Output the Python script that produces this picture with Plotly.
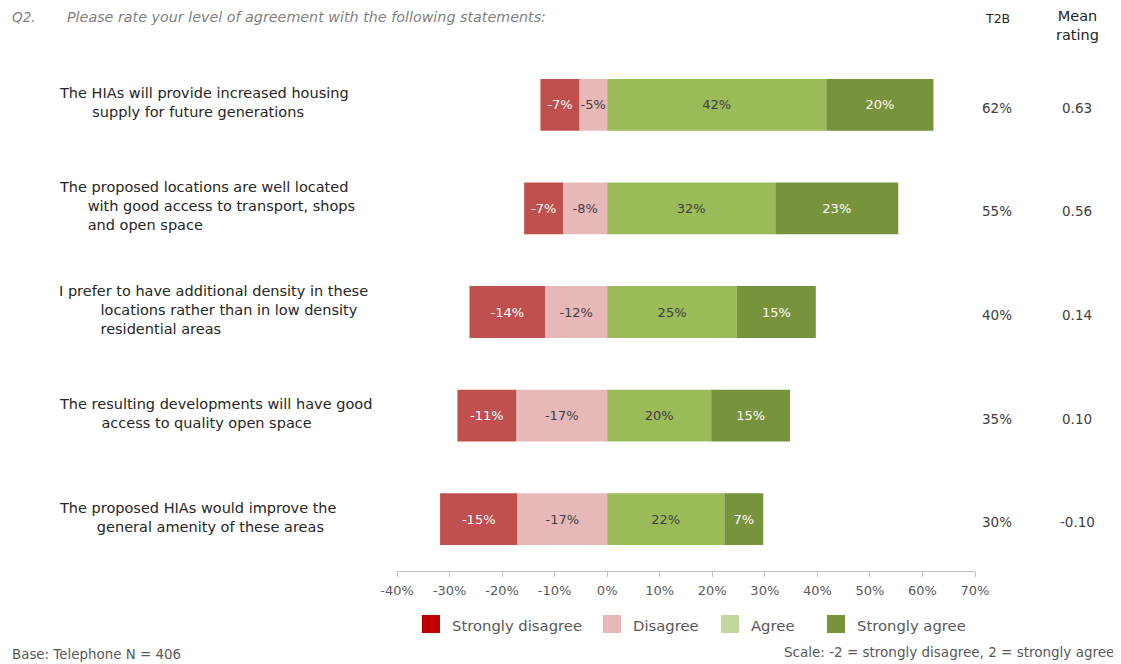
import plotly.graph_objects as go

# statements (lines as shown on the chart)
statements = [
    ["The HIAs will provide increased housing", "supply for future generations"],
    ["The proposed locations are well located", "with good access to transport, shops", "and open space"],
    ["I prefer to have additional density in these", "locations rather than in low density", "residential areas"],
    ["The resulting developments will have good", "access to quality open space"],
    ["The proposed HIAs would improve the", "general amenity of these areas"],
]

series_names = ["Strongly disagree", "Disagree", "Agree", "Strongly agree"]
strongly_disagree = [-7.4, -7.4, -14.4, -11.2, -14.7]
disagree = [-5.3, -8.4, -11.8, -17.3, -17.1]
agree = [41.7, 32.0, 24.7, 19.8, 22.3]
strongly_agree = [20.4, 23.4, 15.0, 15.0, 7.4]

t2b = ["62%", "55%", "40%", "35%", "30%"]
mean_rating = ["0.63", "0.56", "0.14", "0.10", "-0.10"]

tick_vals = [-40, -30, -20, -10, 0, 10, 20, 30, 40, 50, 60, 70]
tick_text = [f"{v}%" for v in tick_vals]

# styling
FONT = "DejaVu Sans"
PAGE = 8  # body margin of the html page
W, H = 1121 - PAGE, 664 - PAGE
ML, MR, MT, MB = 389, 146, 45, 93
bar_colors = ["#C0504D", "#E6B9B8", "#9BBB59", "#77933C"]
legend_colors = ["#C00000", "#E6B9B8", "#C3D69B", "#77933C"]
text_colors = ["#FFFFFF", "#404040", "#404040", "#FFFFFF"]
indents = [7, 6, 9, 9, 8]  # non-breaking spaces before wrapped lines

pw, ph = W - ML - MR, H - MT - MB


def px_x(px):
    # screen pixel -> paper x
    return (px - PAGE - ML) / pw


def px_y(py):
    # screen pixel -> paper y
    return (H - MB - (py - PAGE)) / ph


rows = list(range(len(statements)))
fig = go.Figure()

# negatives: disagree first so it sits next to zero
order = [1, 0, 2, 3]
values = [strongly_disagree, disagree, agree, strongly_agree]
for i in order:
    fig.add_trace(
        go.Bar(
            y=rows,
            x=values[i],
            orientation="h",
            name=series_names[i],
            marker=dict(color=bar_colors[i], line=dict(width=0)),
            text=[f"{round(v)}%" for v in values[i]],
            textposition="inside",
            insidetextanchor="middle",
            textangle=0,
            textfont=dict(family=FONT, size=13, color=text_colors[i]),
            showlegend=False,
            hoverinfo="skip",
        )
    )

annotations = []
# statement labels and the two right-hand columns
for r, lines in enumerate(statements):
    pad = "\u00a0" * indents[r]
    label = "<br>".join([lines[0]] + [pad + s for s in lines[1:]])
    annotations.append(dict(
        x=px_x(57), xref="paper", y=r, yref="y",
        text=label, showarrow=False, xanchor="left", yanchor="middle", align="left",
        yshift=2, font=dict(family=FONT, size=14.5, color="#262626"),
    ))
    annotations.append(dict(
        x=px_x(997), xref="paper", y=r, yref="y", text=t2b[r], showarrow=False,
        xanchor="center", yanchor="middle", yshift=-3,
        font=dict(family=FONT, size=13.5, color="#404040"),
    ))
    annotations.append(dict(
        x=px_x(1077), xref="paper", y=r, yref="y", text=mean_rating[r], showarrow=False,
        xanchor="center", yanchor="middle", yshift=-3,
        font=dict(family=FONT, size=13.5, color="#404040"),
    ))


def note(text, x, y, size, color, anchor="left"):
    return dict(x=px_x(x), y=px_y(y), xref="paper", yref="paper", text=text,
                showarrow=False, xanchor=anchor, yanchor="middle",
                font=dict(family=FONT, size=size, color=color))


annotations += [
    note("<i>Q2.</i>", 10, 17, 13.5, "#7F7F7F"),
    note("<i>Please rate your level of agreement with the following statements:</i>",
         65, 17, 14.3, "#7F7F7F"),
    note("T2B", 997, 19, 12.5, "#262626", "center"),
    note("Mean<br>rating", 1077, 25, 14.5, "#262626", "center"),
    note("Base: Telephone N = 406", 10, 654, 13.4, "#595959"),
    note("Scale: -2 = strongly disagree, 2 = strongly agree", 1116, 652, 13.5, "#595959", "right"),
]

# legend drawn by hand (swatch colours differ from the bars)
shapes = []
legend_x = [422, 603, 721, 827]
for i, name in enumerate(series_names):
    x0 = legend_x[i]
    shapes.append(dict(type="rect", xref="paper", yref="paper",
                       x0=px_x(x0), x1=px_x(x0 + 18), y0=px_y(633), y1=px_y(615),
                       fillcolor=legend_colors[i], line=dict(width=0)))
    annotations.append(note(name, x0 + 28, 625, 14.8, "#595959"))

fig.update_layout(
    width=W, height=H,
    margin=dict(l=ML, r=MR, t=MT, b=MB),
    barmode="relative", bargap=0.5,
    plot_bgcolor="white", paper_bgcolor="white",
    annotations=annotations, shapes=shapes,
    uniformtext=dict(mode="show", minsize=13),
    font=dict(family=FONT, color="#404040"),
)
fig.update_xaxes(
    range=[-40, 70], tickvals=tick_vals, ticktext=tick_text,
    showgrid=False, zeroline=False, showline=True, linecolor="#BFBFBF",
    ticks="outside", ticklen=5, tickcolor="#BFBFBF", ticklabelstandoff=2,
    tickfont=dict(family=FONT, size=13, color="#595959"),
)
fig.update_yaxes(range=[4.5, -0.5], showticklabels=False, showgrid=False, zeroline=False)

fig.write_html("out.html")
